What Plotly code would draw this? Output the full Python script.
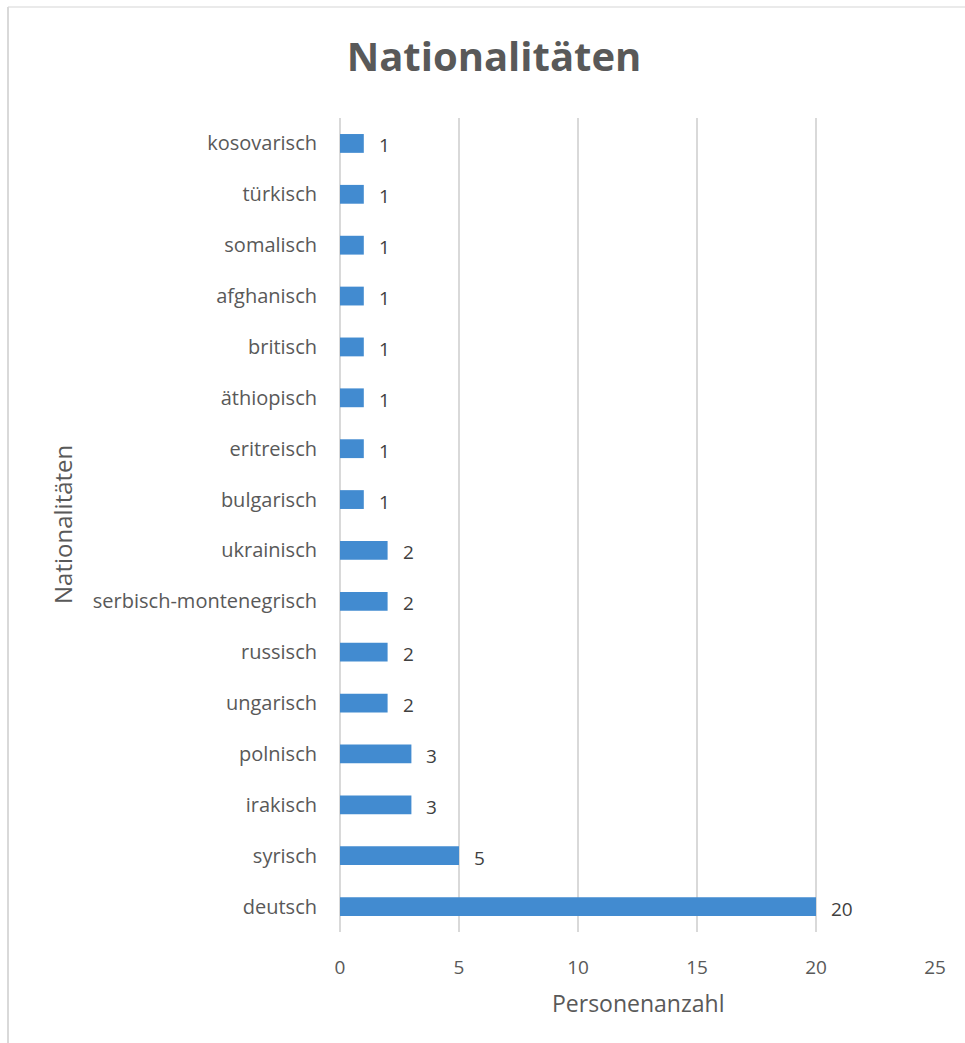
import plotly.graph_objects as go

categories = ["deutsch", "syrisch", "irakisch", "polnisch", "ungarisch", "russisch",
              "serbisch-montenegrisch", "ukrainisch", "bulgarisch", "eritreisch",
              "äthiopisch", "britisch", "afghanisch", "somalisch", "türkisch", "kosovarisch"]
values = [20, 5, 3, 3, 2, 2, 2, 2, 1, 1, 1, 1, 1, 1, 1, 1]
x_ticks = [0, 5, 10, 15, 20, 25]

W, H = 965, 1043
L, R, T, B = 340, 30, 118, 111
pw, ph = W - L - R, H - T - B

def px_x(p):
    return (p - L) / pw

def px_y(p):
    return (H - B - p) / ph

FONT = "Open Sans"
BAR = "#428BD0"
GRID = "#D9D9D9"
TXT = "#595959"

fig = go.Figure()
fig.add_trace(go.Bar(
    y=categories, x=values, orientation="h",
    marker=dict(color=BAR, line=dict(width=0)),
    width=0.37, hoverinfo="skip",
))

annotations = []
for c, v in zip(categories, values):
    annotations.append(dict(x=v, y=c, xref="x", yref="y", text=str(v), showarrow=False,
                            xanchor="left", yanchor="middle", xshift=13, yshift=-2,
                            font=dict(family=FONT, size=19, color="#404040")))
annotations.append(dict(x=0.5, y=px_y(1003), xref="paper", yref="paper", text="Personenanzahl",
                        showarrow=False, xanchor="center", yanchor="middle",
                        font=dict(family=FONT, size=23, color=TXT)))
annotations.append(dict(x=px_x(62), y=0.5, xref="paper", yref="paper", text="Nationalitäten",
                        showarrow=False, xanchor="center", yanchor="middle", textangle=-90,
                        font=dict(family=FONT, size=24, color=TXT)))

shapes = [
    dict(type="line", xref="paper", yref="paper", x0=px_x(8), x1=px_x(W + 10),
         y0=px_y(7), y1=px_y(7), line=dict(color="#E3E3E3", width=1.5)),
    dict(type="line", xref="paper", yref="paper", x0=px_x(8), x1=px_x(8),
         y0=px_y(7), y1=px_y(H + 10), line=dict(color="#D9D9D9", width=2)),
]

fig.update_layout(
    width=W, height=H,
    margin=dict(l=L, r=R, t=T, b=B, pad=0),
    paper_bgcolor="white", plot_bgcolor="white",
    title=dict(text="<b>Nationalitäten</b>", x=494 / W, xanchor="center",
               y=1 - 57 / H, yanchor="middle", yref="container",
               font=dict(family=FONT, size=40, color="#595959")),
    xaxis=dict(range=[0, 25], tickvals=x_ticks, ticktext=[str(t) for t in x_ticks],
               showgrid=True, gridcolor=GRID, gridwidth=2,
               zeroline=True, zerolinecolor=GRID, zerolinewidth=2,
               showline=False, ticks="", ticklabelstandoff=22,
               tickfont=dict(family=FONT, size=19, color=TXT), fixedrange=True),
    yaxis=dict(categoryorder="array", categoryarray=categories,
               range=[-0.5, len(categories) - 0.5],
               showgrid=False, zeroline=False, showline=False, ticks="",
               ticklabelstandoff=22,
               tickfont=dict(family=FONT, size=20, color=TXT), fixedrange=True),
    showlegend=False,
    annotations=annotations,
    shapes=shapes,
    bargap=0.63,
)

fig.write_html("out.html")
